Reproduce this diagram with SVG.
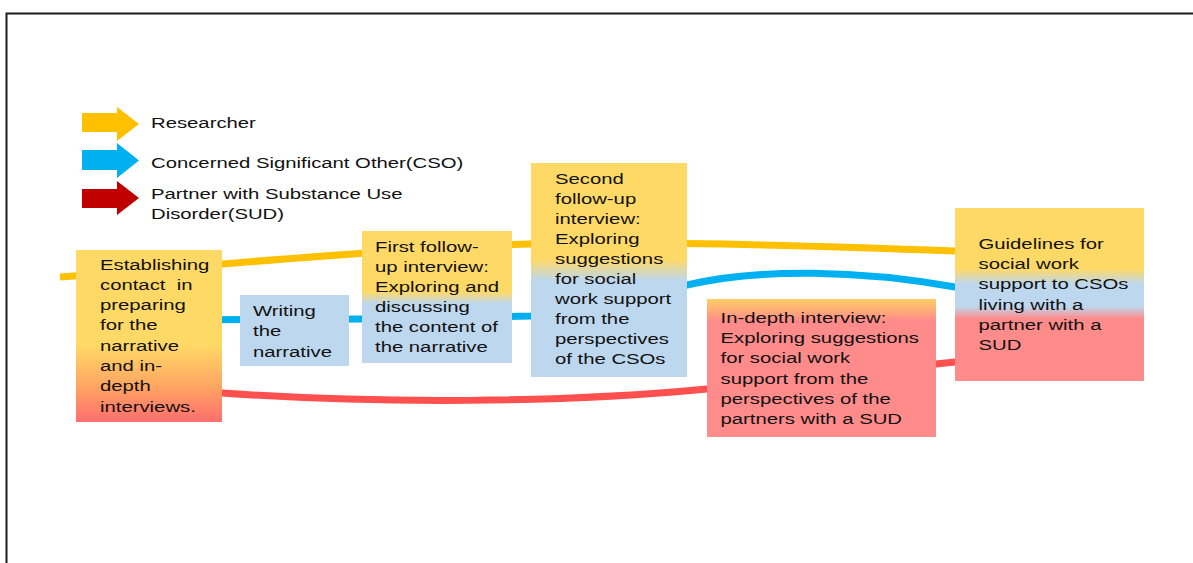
<svg xmlns="http://www.w3.org/2000/svg" width="1193" height="563" viewBox="0 0 1193 563">
<style>
.t{font-family:"Liberation Sans",Arial,sans-serif;font-size:15.5px;fill:#111;}
.ln{fill:none;stroke-width:7;}
</style>
<defs>
<linearGradient id="g1" x1="0" y1="0" x2="0" y2="1">
<stop offset="0" stop-color="#FFD966"/><stop offset="0.55" stop-color="#FFD966"/><stop offset="0.78" stop-color="#FFA862"/><stop offset="1" stop-color="#FF6E6E"/>
</linearGradient>
<linearGradient id="g3" x1="0" y1="0" x2="0" y2="1">
<stop offset="0" stop-color="#FFD966"/><stop offset="0.46" stop-color="#FFD966"/><stop offset="0.55" stop-color="#BDD7EE"/><stop offset="1" stop-color="#BDD7EE"/>
</linearGradient>
<linearGradient id="g4" x1="0" y1="0" x2="0" y2="1">
<stop offset="0" stop-color="#FFD966"/><stop offset="0.45" stop-color="#FFD966"/><stop offset="0.55" stop-color="#BDD7EE"/><stop offset="1" stop-color="#BDD7EE"/>
</linearGradient>
<linearGradient id="g5" x1="0" y1="0" x2="0" y2="1">
<stop offset="0" stop-color="#FFCF66"/><stop offset="0.16" stop-color="#FF8B8B"/><stop offset="1" stop-color="#FF8B8B"/>
</linearGradient>
<linearGradient id="g6" x1="0" y1="0" x2="0" y2="1">
<stop offset="0" stop-color="#FFD966"/><stop offset="0.35" stop-color="#FFD966"/><stop offset="0.44" stop-color="#BDD7EE"/><stop offset="0.57" stop-color="#BDD7EE"/><stop offset="0.64" stop-color="#FF8B8B"/><stop offset="1" stop-color="#FF8B8B"/>
</linearGradient>
</defs>
<rect width="1193" height="563" fill="#fff"/>
<path d="M6.5,563 V13.5 H1193" fill="none" stroke="#1a1a1a" stroke-width="2"/>

<g id="legend">
<polygon points="82,113 117,113 117,107 139,124 117,141 117,132 82,132" fill="#FFC000"/>
<polygon points="82,150 117,150 117,143 139,160.5 117,178 117,170 82,170" fill="#00B0F0"/>
<polygon points="82,189 117,189 117,181 139,198 117,215 117,208 82,208" fill="#C00000"/>
<text class="t" transform="translate(151,128.3) scale(1.31,1)"><tspan x="0" y="0">Researcher</tspan></text>
<text class="t" transform="translate(151,167.7) scale(1.31,1)"><tspan x="0" y="0">Concerned Significant Other(CSO)</tspan></text>
<text class="t" transform="translate(151,199.3) scale(1.31,1)"><tspan x="0" y="0">Partner with Substance Use</tspan><tspan x="0" dy="19.7">Disorder(SUD)</tspan></text>
</g>

<g id="connectors">
<path class="ln" stroke="#FFC000" d="M60,277 C200,266 400,248 531,244 C650,241 800,245 955,251"/>
<path class="ln" stroke="#00B0F0" d="M150,320 L362,319 L531,316 L687,285 C760,268 860,270 955,287 L1000,300"/>
<path class="ln" stroke="#FF5050" d="M150,392 L222,393 C380,404 560,403 707,389 L936,364 L955,362 L1000,358"/>
</g>

<g id="n1">
<rect x="76" y="250" width="146" height="172" fill="url(#g1)"/>
<text class="t" transform="translate(100,269.5) scale(1.31,1)"><tspan x="0" y="0">Establishing</tspan><tspan x="0" dy="20.3" xml:space="preserve">contact  in</tspan><tspan x="0" dy="20.3">preparing</tspan><tspan x="0" dy="20.3">for the</tspan><tspan x="0" dy="20.3">narrative</tspan><tspan x="0" dy="20.3">and in-</tspan><tspan x="0" dy="20.3">depth</tspan><tspan x="0" dy="20.3">interviews.</tspan></text>
</g>

<g id="n2">
<rect x="240" y="295" width="109" height="71" fill="#BDD7EE"/>
<text class="t" transform="translate(253,316) scale(1.31,1)"><tspan x="0" y="0">Writing</tspan><tspan x="0" dy="20.3">the</tspan><tspan x="0" dy="20.3">narrative</tspan></text>
</g>

<g id="n3">
<rect x="362" y="231" width="150" height="132" fill="url(#g3)"/>
<text class="t" transform="translate(375,251.7) scale(1.31,1)"><tspan x="0" y="0">First follow-</tspan><tspan x="0" dy="20">up interview:</tspan><tspan x="0" dy="20">Exploring and</tspan><tspan x="0" dy="20">discussing</tspan><tspan x="0" dy="20">the content of</tspan><tspan x="0" dy="20">the narrative</tspan></text>
</g>

<g id="n4">
<rect x="531" y="163" width="156" height="214" fill="url(#g4)"/>
<text class="t" transform="translate(555,184) scale(1.31,1)"><tspan x="0" y="0">Second</tspan><tspan x="0" dy="20">follow-up</tspan><tspan x="0" dy="20">interview:</tspan><tspan x="0" dy="20">Exploring</tspan><tspan x="0" dy="20">suggestions</tspan><tspan x="0" dy="20">for social</tspan><tspan x="0" dy="20">work support</tspan><tspan x="0" dy="20">from the</tspan><tspan x="0" dy="20">perspectives</tspan><tspan x="0" dy="20">of the CSOs</tspan></text>
</g>

<g id="n5">
<rect x="707" y="299" width="229" height="138" fill="url(#g5)"/>
<text class="t" transform="translate(720.5,323.3) scale(1.31,1)"><tspan x="0" y="0">In-depth interview:</tspan><tspan x="0" dy="20.1">Exploring suggestions</tspan><tspan x="0" dy="20.1">for social work</tspan><tspan x="0" dy="20.1">support from the</tspan><tspan x="0" dy="20.1">perspectives of the</tspan><tspan x="0" dy="20.1">partners with a SUD</tspan></text>
</g>

<g id="n6">
<rect x="955" y="208" width="189" height="173" fill="url(#g6)"/>
<text class="t" transform="translate(978.5,249.3) scale(1.31,1)"><tspan x="0" y="0">Guidelines for</tspan><tspan x="0" dy="20.1">social work</tspan><tspan x="0" dy="20.1">support to CSOs</tspan><tspan x="0" dy="20.1">living with a</tspan><tspan x="0" dy="20.1">partner with a</tspan><tspan x="0" dy="20.1">SUD</tspan></text>
</g>
</svg>
